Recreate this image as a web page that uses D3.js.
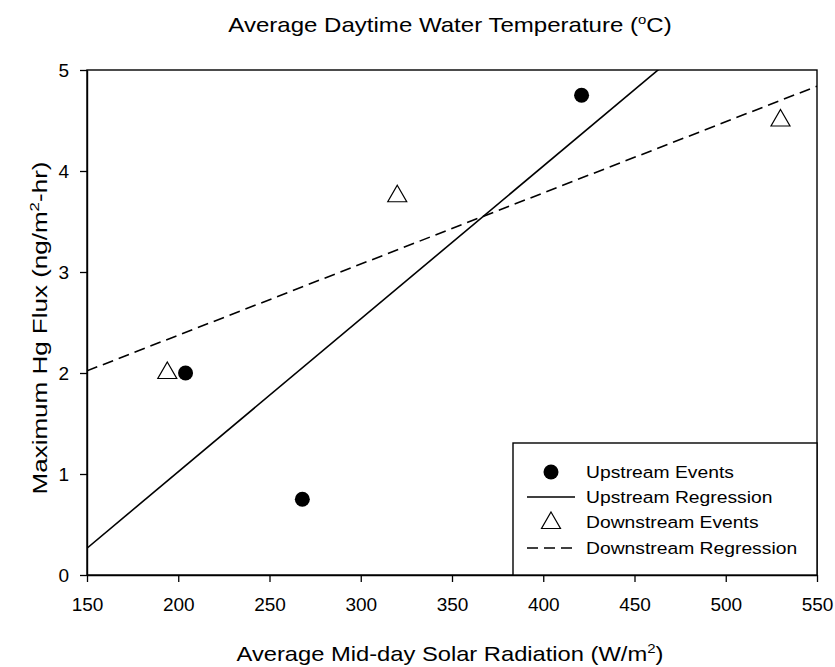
<!DOCTYPE html>
<html><head><meta charset="utf-8">
<script src="https://cdn.jsdelivr.net/npm/d3@7/dist/d3.min.js"></script>
<style>body{margin:0;background:#fff}text{font-family:"Liberation Sans",Arial,sans-serif;fill:#000}</style>
</head><body>
<svg id="c" width="835" height="667"></svg>
<script>
const upX = [204, 268, 421];
const upY = [2.0, 0.75, 4.75];
const downX = [194, 320, 530];
const downY = [2.0, 3.75, 4.5];
const xTicks = [150, 200, 250, 300, 350, 400, 450, 500, 550];
const yTicks = [0, 1, 2, 3, 4, 5];
const legendLabels = ["Upstream Events", "Upstream Regression", "Downstream Events", "Downstream Regression"];

const svg = d3.select("#c");
const L = 87, R = 817, T = 70, B = 575;
const x = d3.scaleLinear().domain([150, 550]).range([L, R]);
const y = d3.scaleLinear().domain([0, 5]).range([B, T]);
const FF = "Liberation Sans, Arial, sans-serif";

function fit(xs, ys) {
  const mx = d3.mean(xs), my = d3.mean(ys);
  let sxy = 0, sxx = 0;
  xs.forEach((v, i) => { sxy += (v - mx) * (ys[i] - my); sxx += (v - mx) * (v - mx); });
  const b = sxy / sxx; return { a: my - b * mx, b };
}

svg.append("clipPath").attr("id", "clip").append("rect").attr("x", L).attr("y", T).attr("width", R - L).attr("height", B - T);

// frame
svg.append("rect").attr("x", L).attr("y", T).attr("width", R - L).attr("height", B - T)
  .attr("fill", "none").attr("stroke", "#000").attr("stroke-width", 1.4);

const xa = svg.append("g").attr("transform", `translate(0,${B})`)
  .call(d3.axisBottom(x).tickValues(xTicks).tickFormat(d3.format("d")).tickSize(7).tickSizeOuter(0).tickPadding(16));
const ya = svg.append("g").attr("transform", `translate(${L},0)`)
  .call(d3.axisLeft(y).tickValues(yTicks).tickFormat(d3.format("d")).tickSize(7).tickSizeOuter(0).tickPadding(11));
[xa, ya].forEach(g => {
  g.attr("font-family", FF);
  g.select(".domain").attr("stroke-width", 1.4);
  g.selectAll(".tick line").attr("stroke-width", 1.3);
  g.selectAll("text").attr("fill", "#000").style("font-size", "19px");
});

// regression lines
const gl = svg.append("g").attr("clip-path", "url(#clip)");
const fu = fit(upX, upY), fd = fit(downX, downY);
const line = d3.line().x(d => x(d[0])).y(d => y(d[1]));
gl.append("path").datum([[150, fu.a + fu.b * 150], [550, fu.a + fu.b * 550]])
  .attr("d", line).attr("stroke", "#000").attr("stroke-width", 1.6).attr("fill", "none");
gl.append("path").datum([[150, fd.a + fd.b * 150], [550, fd.a + fd.b * 550]])
  .attr("d", line).attr("stroke", "#000").attr("stroke-width", 1.6).attr("fill", "none").attr("stroke-dasharray", "11,6");

// points
const tri = d3.symbol().type(d3.symbolTriangle).size(156);
svg.append("g").selectAll("path").data(downX.map((v, i) => [v, downY[i]])).join("path")
  .attr("d", tri).attr("transform", d => `translate(${x(d[0])},${y(d[1])})`)
  .attr("fill", "#fff").attr("stroke", "#000").attr("stroke-width", 1.2);
svg.append("g").selectAll("circle").data(upX.map((v, i) => [v, upY[i]])).join("circle")
  .attr("cx", d => x(d[0])).attr("cy", d => y(d[1])).attr("r", 7.5).attr("fill", "#000");

// legend
const lg = svg.append("g");
lg.append("rect").attr("x", 513).attr("y", 443).attr("width", R - 513).attr("height", B - 443)
  .attr("fill", "#fff").attr("stroke", "#000").attr("stroke-width", 1.4);
const ly = [472, 497, 522, 548];
legendLabels.forEach((t, i) => {
  lg.append("text").attr("transform", `translate(586,${ly[i]}) scale(1.17,1)`)
    .attr("dy", "0.36em").attr("font-size", 16.5).text(t);
});
lg.append("circle").attr("cx", 551).attr("cy", ly[0]).attr("r", 7.5).attr("fill", "#000");
lg.append("line").attr("x1", 527).attr("x2", 575).attr("y1", ly[1]).attr("y2", ly[1]).attr("stroke", "#000").attr("stroke-width", 1.6);
lg.append("path").attr("d", tri).attr("transform", `translate(551,${ly[2] + 1})`).attr("fill", "#fff").attr("stroke", "#000").attr("stroke-width", 1.2);
lg.append("line").attr("x1", 527).attr("x2", 575).attr("y1", ly[3]).attr("y2", ly[3]).attr("stroke", "#000").attr("stroke-width", 1.6).attr("stroke-dasharray", "11,6");

// titles
const title = svg.append("text").attr("transform", "translate(450,32) scale(1.145,1)").attr("text-anchor", "middle").attr("font-size", 21);
title.append("tspan").text("Average Daytime Water Temperature (");
title.append("tspan").attr("font-size", 13).attr("dy", -8).text("o");
title.append("tspan").attr("dy", 8).text("C)");

const xl = svg.append("text").attr("transform", "translate(450,661) scale(1.157,1)").attr("text-anchor", "middle").attr("font-size", 20.5);
xl.append("tspan").text("Average Mid-day Solar Radiation (W/m");
xl.append("tspan").attr("font-size", 13).attr("dy", -8).text("2");
xl.append("tspan").attr("dy", 8).text(")");

const yl = svg.append("text").attr("transform", `translate(47,328) rotate(-90) scale(1.3,1)`).attr("text-anchor", "middle").attr("font-size", 20);
yl.append("tspan").text("Maximum Hg Flux (ng/m");
yl.append("tspan").attr("font-size", 13).attr("dy", -8).text("2");
yl.append("tspan").attr("dy", 8).text("-hr)");
</script>
</body></html>
